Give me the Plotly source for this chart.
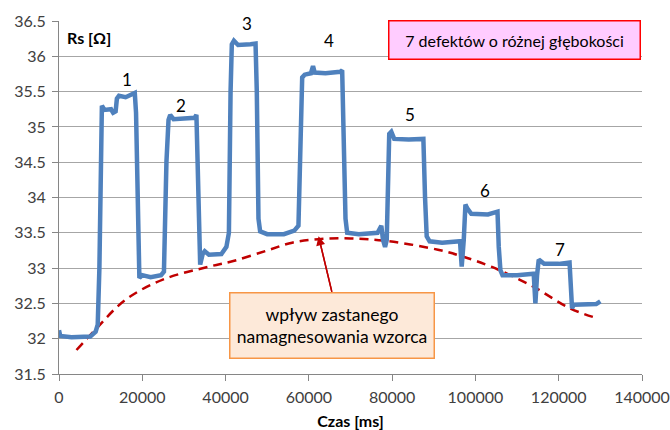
import plotly.graph_objects as go

# Measured resistance Rs over time (breakpoints of the recorded trace)
czas_ms = [
    0, 300, 3000, 7500, 8800, 9300, 9700, 10000, 10300, 10900, 12500, 13000, 13600, 13900, 14400,
    16000, 17800, 18200, 18500, 19000, 19300, 20000, 22000, 24500, 25200, 25800, 26300, 26700,
    27500, 30000, 32600, 33000, 33300, 33700, 33900, 34500, 35000, 36000, 39000, 40200, 40800,
    41200, 41500, 42000, 43000, 46000, 47200, 47500, 47900, 48300, 50000, 54000, 56500, 57500,
    58000, 58400, 59000, 60500, 61000, 61400, 64000, 67500, 68000, 68400, 68800, 69200, 72000,
    76500, 77400, 77800, 78300, 78700, 79000, 79300, 79800, 80500, 84000, 87500, 87900, 88300,
    89000, 92000, 96300, 96700, 97200, 97600, 98000, 99000, 103000, 105300, 105600, 106000,
    106500, 110000, 114000, 114400, 114800, 115200, 116500, 120000, 122600, 122900, 123200,
    123600, 126000, 129000, 130000,
]
rs_ohm = [
    32.12, 32.04, 32.02, 32.03, 32.10, 32.20, 33.00, 35.00, 35.30, 35.24, 35.25, 35.20, 35.22, 35.40, 35.44,
    35.42, 35.46, 35.48, 35.20, 33.20, 32.86, 32.90, 32.87, 32.90, 32.95, 34.50, 35.10, 35.17,
    35.11, 35.12, 35.13, 35.17, 34.50, 33.20, 33.05, 33.20, 33.24, 33.19, 33.20, 33.30, 33.50,
    35.50, 36.17, 36.22, 36.16, 36.17, 36.18, 35.50, 33.70, 33.52, 33.48, 33.48, 33.53, 33.60,
    34.50, 35.70, 35.74, 35.76, 35.86, 35.77, 35.76, 35.78, 35.80, 35.00, 33.70, 33.50, 33.48,
    33.50, 33.60, 33.40, 33.30, 33.40, 34.50, 34.90, 34.93, 34.83, 34.82, 34.83, 34.00, 33.45,
    33.38, 33.36, 33.38, 33.02, 33.40, 33.90, 33.85, 33.77, 33.76, 33.80, 33.30, 32.97,
    32.90, 32.90, 32.92, 32.50, 32.90, 33.12, 33.06, 33.06, 33.08, 32.60, 32.43,
    32.48, 32.48, 32.49, 32.53,
]

# Trend of the residual magnetisation of the sample
trend_czas = [4200, 8600, 15950, 25070, 36000, 41860, 50000, 56000, 62250, 70000, 79300, 91000,
              96600, 103800, 113800, 122700, 129200]
trend_rs = [31.84, 32.12, 32.55, 32.84, 33.02, 33.10, 33.25, 33.36, 33.41, 33.42, 33.38, 33.26,
            33.17, 33.02, 32.74, 32.43, 32.29]

# Defect numbers and where they are written
defekt_nr = ["1", "2", "3", "4", "5", "6", "7"]
defekt_x = [16300, 29400, 45150, 64900, 84300, 102300, 120300]
defekt_y = [35.67, 35.30, 36.46, 36.22, 35.18, 34.10, 33.26]

x_ticks = [0, 20000, 40000, 60000, 80000, 100000, 120000, 140000]
y_ticks = [31.5, 32, 32.5, 33, 33.5, 34, 34.5, 35, 35.5, 36, 36.5]

FONT = "Lato"
TXT = "#404040"

fig = go.Figure()
fig.add_trace(go.Scatter(
    x=trend_czas, y=trend_rs, mode="lines",
    line=dict(color="#C00000", width=2.5, dash="9px,6px", shape="spline"),
    hoverinfo="skip",
))
fig.add_trace(go.Scatter(
    x=czas_ms, y=rs_ohm, mode="lines",
    line=dict(color="#4F81BD", width=4.5),
))

annotations = []
for nr, xx, yy in zip(defekt_nr, defekt_x, defekt_y):
    annotations.append(dict(x=xx, y=yy, xref="x", yref="y", text=nr, showarrow=False,
                            font=dict(family=FONT, size=17, color="black")))

annotations += [
    dict(x=0.011, y=0.9535, xref="paper", yref="paper", xanchor="left", yanchor="middle",
         text="<b>Rs [Ω]</b>", showarrow=False, font=dict(family=FONT, size=16, color="black")),
    dict(x=0.7815, y=0.947, xref="paper", yref="paper", xanchor="center", yanchor="middle",
         text="7 defektów o różnej głębokości", showarrow=False,
         font=dict(family=FONT, size=16, color="black"),
         bgcolor="#FFCCFF", bordercolor="#FF0000", borderwidth=1.5, borderpad=0,
         width=250, height=37),
    dict(x=65540, y=32.66, xref="x", yref="y", ax=62330, ay=33.45, axref="x", ayref="y",
         text="", showarrow=True, arrowhead=0, arrowwidth=1.5, arrowcolor="#C00000"),
    dict(x=62330, y=33.45, xref="x", yref="y", ax=65540, ay=32.66, axref="x", ayref="y",
         text="", showarrow=True, arrowhead=2, arrowsize=1.2, arrowwidth=1.5,
         arrowcolor="#C00000", standoff=0),
    dict(x=0.4685, y=0.1368, xref="paper", yref="paper", xanchor="center", yanchor="middle",
         text="wpływ zastanego<br>namagnesowania wzorca", showarrow=False,
         font=dict(family=FONT, size=17.5, color="black"),
         bgcolor="#FDE9D9", bordercolor="#F79646", borderwidth=1.5, borderpad=0,
         width=203, height=64),
]

fig.update_layout(
    width=670, height=430,
    margin=dict(l=58.5, r=28, t=21.3, b=55.7),
    paper_bgcolor="white", plot_bgcolor="white",
    showlegend=False,
    font=dict(family=FONT, size=16, color=TXT),
    annotations=annotations,
    xaxis=dict(
        range=[0, 140000], tickvals=x_ticks, ticktext=[str(v) for v in x_ticks],
        showgrid=False, zeroline=False, showline=True, linecolor="#868686", linewidth=1,
        ticks="outside", ticklen=6, tickcolor="#868686", ticklabelstandoff=3,
        tickfont=dict(family=FONT, size=16, color=TXT), automargin=False,
        title=dict(text="<b>Czas [ms]</b>", font=dict(family=FONT, size=16, color="black"), standoff=17),
    ),
    yaxis=dict(
        range=[31.5, 36.5], tickvals=y_ticks, ticktext=[("%g" % v) for v in y_ticks],
        showgrid=True, gridcolor="#A6A6A6", gridwidth=1, zeroline=False,
        showline=True, linecolor="#868686", linewidth=1, automargin=False,
        ticks="outside", ticklen=6, tickcolor="#868686", ticklabelstandoff=3,
        tickfont=dict(family=FONT, size=16, color=TXT),
    ),
)

fig.write_html("out.html")
